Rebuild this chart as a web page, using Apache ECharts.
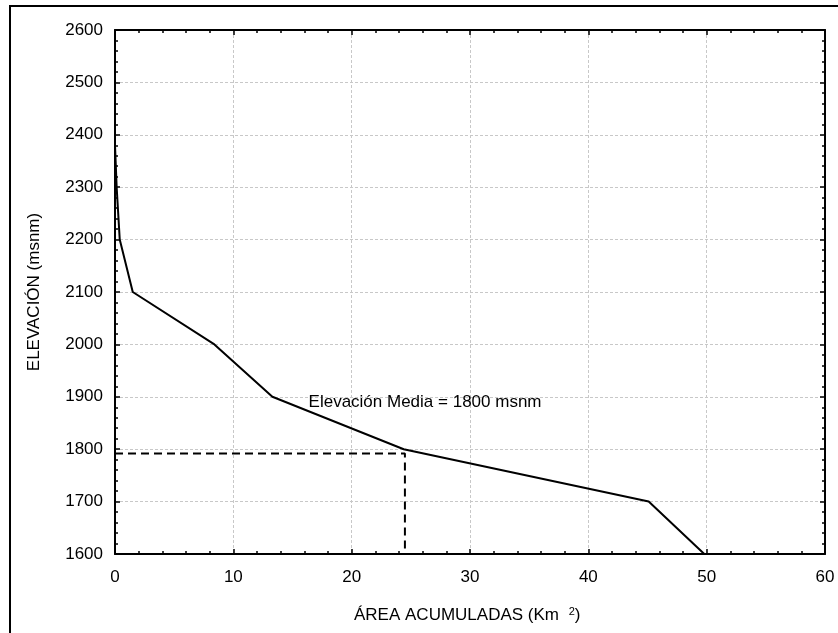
<!DOCTYPE html>
<html>
<head>
<meta charset="utf-8">
<script src="https://cdn.jsdelivr.net/npm/echarts@6/dist/echarts.min.js"></script>
<style>html,body{margin:0;padding:0;background:#fff;}#c{width:838px;height:633px;}</style>
</head>
<body>
<div id="c"></div>
<script>
// Curva hipsométrica
var areaAcum = [0, 0.14, 0.4, 1.5, 8.4, 13.3, 24.4, 45.1, 49.8];
var elevacion = [2380, 2300, 2200, 2100, 2000, 1900, 1800, 1700, 1600];
var mediaX = [0, 24.5, 24.5];
var mediaY = [1792, 1792, 1600];
var xTicks = [0, 10, 20, 30, 40, 50, 60];
var yTicks = [1600, 1700, 1800, 1900, 2000, 2100, 2200, 2300, 2400, 2500, 2600];
var anotacion = 'Elevación Media = 1800 msnm';
var anotX = 26.2, anotY = 1889;

var FONT = 'Liberation Sans, Arial, sans-serif';
var FS = 17;
var chart = echarts.init(document.getElementById('c'));

function pairs(xs, ys){ return xs.map(function(x,i){ return [x, ys[i]]; }); }

var axisCommon = {
  axisLine: {show: true, onZero: false, lineStyle: {color: '#000', width: 2}},
  axisTick: {show: true, inside: true, length: 5, lineStyle: {color: '#000', width: 1.5}},
  minorTick: {show: true, splitNumber: 5, length: 3, lineStyle: {color: '#000', width: 1.5}}
};

chart.setOption({
  animation: false,
  backgroundColor: '#fff',
  grid: {left: 115, right: 13, top: 30, bottom: 79, containLabel: false},
  graphic: [{
    type: 'rect', silent: true, z: 0,
    shape: {x: 10, y: 6, width: 860, height: 660},
    style: {fill: 'none', stroke: '#000', lineWidth: 2}
  }, {
    type: 'text', left: 354, top: 606,
    style: {
      text: '{a|ÁREA ACUMULADAS (Km }{s|2}{a|)}',
      rich: {
        a: {fontFamily: FONT, fontSize: FS, fill: '#000'},
        s: {fontFamily: FONT, fontSize: 11, fill: '#000', verticalAlign: 'top', padding: [0,0,8,5]}
      }
    }
  }],
  xAxis: [Object.assign({
    type: 'value', min: 0, max: 60, interval: 10, position: 'bottom',
    axisLabel: {color: '#000', fontFamily: FONT, fontSize: FS, margin: 15,
      formatter: function(v){ return xTicks.indexOf(v) >= 0 ? String(v) : ''; }},
    splitLine: {show: true, lineStyle: {color: '#c8c8c8', type: [3,2], width: 1}}
  }, axisCommon), Object.assign({
    type: 'value', min: 0, max: 60, interval: 10, position: 'top',
    axisLabel: {show: false}, splitLine: {show: false}
  }, axisCommon)],
  yAxis: [Object.assign({
    type: 'value', min: 1600, max: 2600, interval: 100, position: 'left',
    name: 'ELEVACIÓN (msnm)', nameLocation: 'middle', nameGap: 72, nameRotate: 90,
    nameTextStyle: {color: '#000', fontFamily: FONT, fontSize: FS},
    axisLabel: {color: '#000', fontFamily: FONT, fontSize: FS, margin: 12,
      formatter: function(v){ return yTicks.indexOf(v) >= 0 ? String(v) : ''; }},
    splitLine: {show: true, lineStyle: {color: '#c8c8c8', type: [3,2], width: 1}}
  }, axisCommon), Object.assign({
    type: 'value', min: 1600, max: 2600, interval: 100, position: 'right',
    axisLabel: {show: false}, splitLine: {show: false}
  }, axisCommon)],
  series: [{
    type: 'line', data: pairs(areaAcum, elevacion), showSymbol: false, symbol: 'none',
    lineStyle: {color: '#000', width: 2}, z: 5
  }, {
    type: 'line', data: pairs(mediaX, mediaY), showSymbol: false, symbol: 'none',
    lineStyle: {color: '#000', width: 2, type: [8, 5]}, z: 4
  }, {
    type: 'scatter', data: [[anotX, anotY]], symbolSize: 0,
    itemStyle: {color: '#000', opacity: 1},
    label: {show: true, position: 'inside', formatter: anotacion,
      color: '#000', fontFamily: FONT, fontSize: FS, textBorderWidth: 0, opacity: 1}, z: 6
  }]
});
</script>
</body>
</html>
